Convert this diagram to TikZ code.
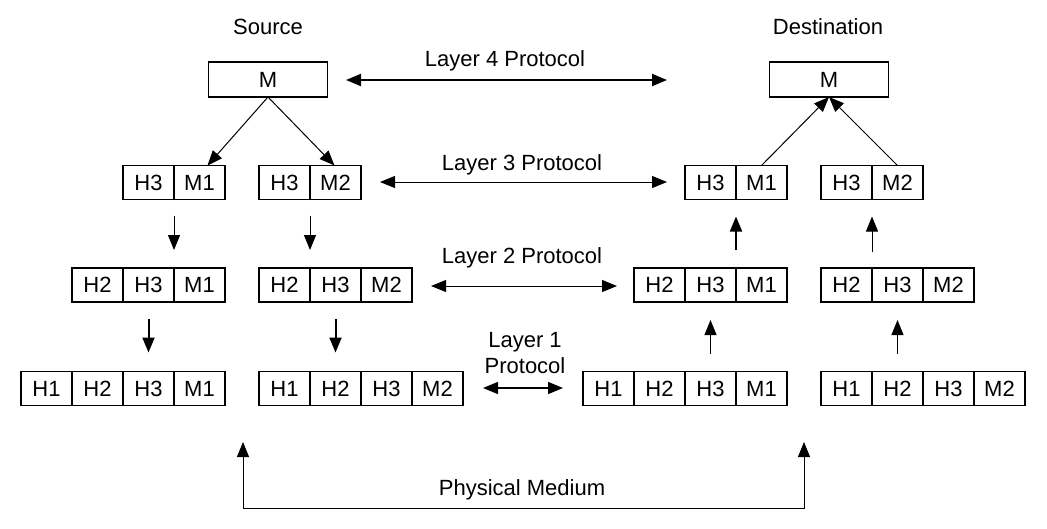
\documentclass[tikz,border=0pt]{standalone}
\usepackage{fontspec}
\setmainfont{Liberation Sans}
\usetikzlibrary{arrows.meta}
\newcommand\pkt[4]{%
  \foreach \t [count=\i] in {#4} {
    \node[cell] (#1\i) at ({#2+(\i-1)*51}, #3) {\t};
  }}
\begin{document}
\begin{tikzpicture}[x=1pt,y=-1pt,
  txt/.style={font=\fontsize{22}{26}\selectfont},
  cell/.style={txt, draw, line width=1.2pt, minimum width=51pt, minimum height=34pt, inner sep=0pt, outer sep=0pt, anchor=west},
  mbox/.style={txt, draw, line width=1.2pt, minimum width=119pt, minimum height=35pt, inner sep=0pt, outer sep=0pt},
  lbl/.style={txt, inner sep=0pt, align=center},
  tp/.tip={Triangle[length=15pt,width=12pt]},
  lwa/.style={line width=1pt},
  lwb/.style={line width=1.5pt},
  lwc/.style={line width=2pt}]
\useasboundingbox (0,0) rectangle (1047,528);

% titles
\node[lbl] (src) at (268,27) {Source};
\node[lbl] (dst) at (828,27) {Destination};

% message boxes
\node[mbox] (sM) at (268,79.5) {M};
\node[mbox] (dM) at (829,79.5) {M};

% packets: layer 3
\pkt{s3a}{123}{182.5}{H3,M1}
\pkt{s3b}{259}{182.5}{H3,M2}
\pkt{d3a}{685}{182.5}{H3,M1}
\pkt{d3b}{821}{182.5}{H3,M2}
% layer 2
\pkt{s2a}{72}{285}{H2,H3,M1}
\pkt{s2b}{259}{285}{H2,H3,M2}
\pkt{d2a}{634}{285}{H2,H3,M1}
\pkt{d2b}{821}{285}{H2,H3,M2}
% layer 1
\pkt{s1a}{21}{388.5}{H1,H2,H3,M1}
\pkt{s1b}{259}{388.5}{H1,H2,H3,M2}
\pkt{d1a}{583}{388.5}{H1,H2,H3,M1}
\pkt{d1b}{821}{388.5}{H1,H2,H3,M2}

% protocol labels
\node[lbl] (l4) at (505,61) {Layer 4 Protocol};
\node[lbl] (l3) at (522,165) {Layer 3 Protocol};
\node[lbl] (l2) at (522,258) {Layer 2 Protocol};
\node[lbl] (l1) at (525,353) {Layer 1\\Protocol};
\node[lbl] (pm) at (522,490) {Physical Medium};

% protocol arrow ends
\coordinate (l4a) at (346,80);  \coordinate (l4b) at (667,80);
\coordinate (l3a) at (380,182); \coordinate (l3b) at (667,182);
\coordinate (l2a) at (431,286); \coordinate (l2b) at (617,286);
\coordinate (l1a) at (483,388); \coordinate (l1b) at (563,388);
\draw[tp-tp, lwc] (l4a) -- (l4b);
\draw[tp-tp, lwa] (l3a) -- (l3b);
\draw[tp-tp, lwa] (l2a) -- (l2b);
\draw[tp-tp, lwb] (l1a) -- (l1b);

% source split
\draw[-tp, lwa] (sM.south) -- ([xshift=8pt]s3a2.north);
\draw[-tp, lwa] (sM.south) -- ([xshift=-1pt]s3b2.north);
% destination merge
\draw[-tp, lwa] (d3a2.north) -- (dM.south);
\draw[-tp, lwa] (d3b2.north) -- (dM.south);

% source downward arrows
\draw[-tp, lwa, shorten <=16pt, shorten >=18pt] (s3a1.south east) -- (s2a3.north west);
\draw[-tp, lwa, shorten <=16pt, shorten >=18pt] (s3b1.south east) -- (s2b2.north west);
\draw[-tp, lwc, shorten <=17pt, shorten >=19pt] (s2a2.south) -- (s1a3.north);
\draw[-tp, lwc, shorten <=17pt, shorten >=19pt] (s2b2.south) -- (s1b2.north);

% destination upward arrows
\draw[-tp, lwc, shorten <=18pt, shorten >=17pt] (d2a3.north west) -- (d3a2.south west);
\draw[-tp, lwa, shorten <=16pt, shorten >=17pt] (d2b2.north west) -- (d3b2.south west);
\draw[-tp, lwa, shorten <=18pt, shorten >=18pt] (d1a3.north) -- (d2a2.south);
\draw[-tp, lwa, shorten <=18pt, shorten >=18pt] (d1b2.north) -- (d2b2.south);

% physical medium
\coordinate (pmA) at (243,442);
\coordinate (pmB) at (243,508);
\coordinate (pmC) at (804,508);
\coordinate (pmD) at (804,442);
\draw[tp-tp, lwa] (pmA) -- (pmB) -- (pmC) -- (pmD);
\end{tikzpicture}
\end{document}
